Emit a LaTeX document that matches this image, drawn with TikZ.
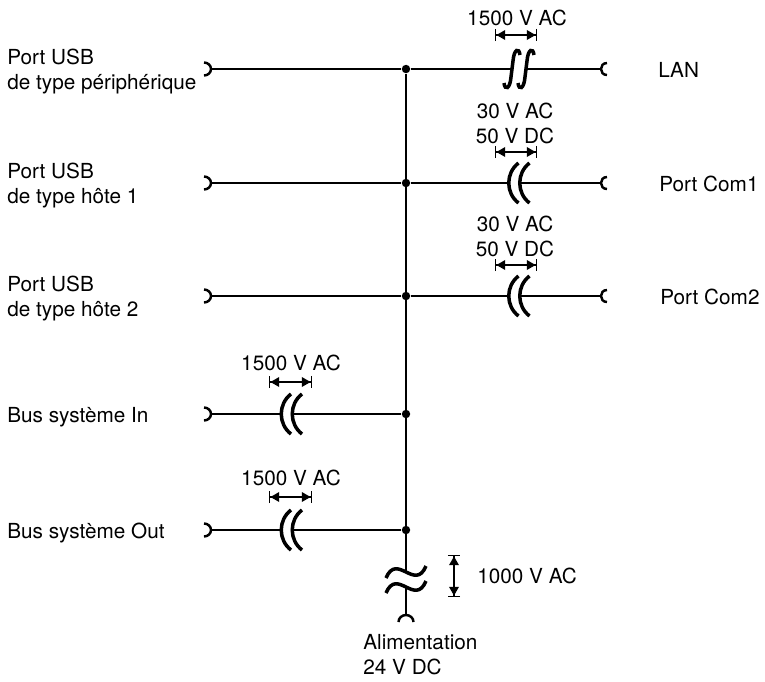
\documentclass[tikz,border=0pt]{standalone}
\usepackage{fontspec}
\setmainfont{TeX Gyre Heros}
\usetikzlibrary{positioning, arrows.meta}

\tikzset{
  wire/.style={line width=1.4pt},
  junction/.style={circle, fill, inner sep=0pt, minimum size=4.8pt},
  lbl/.style={inner sep=0pt, align=left, font=\fontsize{11.8}{14.2}\selectfont},
  volt/.style={inner sep=0pt, align=center, anchor=north, font=\fontsize{11.8}{14.2}\selectfont},
  dimarrow/.style={line width=0.8pt, {Bar[width=7pt,sep=0pt]Triangle[length=5pt,width=5.5pt,sep=0pt]}-{Triangle[length=5pt,width=5.5pt,sep=0pt]Bar[width=7pt,sep=0pt]}},
  brkstroke/.style={line width=2pt},
  pics/gapcc/.style={code={
    \foreach \dx in {-5.5,5.5} {
      \draw[brkstroke] (\dx+5,-20) .. controls (\dx-8,-10) and (\dx-8,10) .. (\dx+5,20);
    }
  }},
  pics/gapss/.style={code={
    \foreach \dx in {-7,7} {
      \draw[brkstroke] (\dx+8,-14) .. controls (\dx+7,-22) and (\dx+2,-20) .. (\dx+1,-8) -- (\dx-1,8) .. controls (\dx-2,20) and (\dx-7,22) .. (\dx-8,14);
    }
  }},
  pics/tilde/.style={code={
    \draw[brkstroke] (-20,6) .. controls (-9,-20) and (9,20) .. (20,-6);
  }}
}

\begin{document}
\begin{tikzpicture}[x=0.02cm, y=-0.02cm]
  \useasboundingbox (0,0) rectangle (765,681);

  % Junctions on the bus
  \foreach \n/\y in {j1/69, j2/183, j3/296, j4/414, j5/530} {
    \node[junction] (\n) at (406,\y) {};
  }

  % Left ports with their plugs
  \foreach \n/\y in {usbp/69, usbh1/183, usbh2/296, busin/414, busout/530} {
    \coordinate (\n) at (211,\y);
    \draw[wire] (204,\y-6.5) .. controls (208,\y-6.5) and (211,\y-3.5) .. (\n) .. controls (211,\y+3.5) and (208,\y+6.5) .. (204,\y+6.5);
  }

  % Right ports with their sockets
  \foreach \n/\y in {lan/69, com1/183, com2/296} {
    \coordinate (\n) at (601,\y);
    \draw[wire] (607,\y-6) .. controls (603,\y-6) and (601,\y-3) .. (\n) .. controls (601,\y+3) and (603,\y+6) .. (607,\y+6);
  }

  % Left labels
  \node[lbl, anchor=north west] (lusbp) at (7,49) {Port USB\\de type périphérique};
  \node[lbl, anchor=north west] (lusbh1) at (7,163) {Port USB\\de type hôte 1};
  \node[lbl, anchor=north west] (lusbh2) at (7,276) {Port USB\\de type hôte 2};
  \node[lbl, anchor=base west] (lbusin) at (7,422) {Bus système In};
  \node[lbl, anchor=base west] (lbusout) at (7,538) {Bus système Out};

  % Right labels
  \node[lbl, anchor=base west] (llan) at (658,77) {LAN};
  \node[lbl, anchor=base west] (lcom1) at (659,191) {Port Com1};
  \node[lbl, anchor=base west] (lcom2) at (660,304) {Port Com2};

  % Straight wires to the bus
  \draw[wire] (usbp) -- (j1);
  \draw[wire] (usbh1) -- (j2);
  \draw[wire] (usbh2) -- (j3);

  % Isolated wires
  \pic at (519,69) {gapss};
  \draw[wire] (j1) -- (512,69) (526,69) -- (lan);
  \foreach \j/\y/\n in {j2/183/com1, j3/296/com2} {
    \pic at (519,\y) {gapcc};
    \draw[wire] (\j) -- (509,\y) (520,\y) -- (\n);
  }
  \foreach \n/\y/\j in {busin/414/j4, busout/530/j5} {
    \pic at (291.5,\y) {gapcc};
    \draw[wire] (\n) -- (282,\y) (293,\y) -- (\j);
  }

  % Bus and supply
  \coordinate (alim) at (406,615);
  \draw[wire] (j1) -- (406,572) (406,587) -- (alim);
  \draw[wire] (398.5,622) .. controls (398.5,618) and (402,615) .. (alim) .. controls (410,615) and (413.5,618) .. (413.5,622);
  \pic at (406,572) {tilde};
  \pic at (406,587) {tilde};
  \node[lbl, anchor=north west] (lalim) at (363,634) {Alimentation\\24 V DC};

  % Isolation voltages
  \draw[dimarrow] (495,35) -- (537,35);
  \node[volt] (vlan) at (517,10) {1500 V AC};
  \foreach \y in {152,265} {
    \draw[dimarrow] (495,\y) -- (537,\y);
    \node[volt] at (515,\y-49) {30 V AC\\50 V DC};
  }
  \foreach \y in {382,497} {
    \draw[dimarrow] (269,\y) -- (312,\y);
    \node[volt] at (291,\y-27) {1500 V AC};
  }
  \draw[dimarrow] (454,555) -- (454,597);
  \node[lbl, anchor=west] (valim) at (477,576) {1000 V AC};
\end{tikzpicture}
\end{document}
